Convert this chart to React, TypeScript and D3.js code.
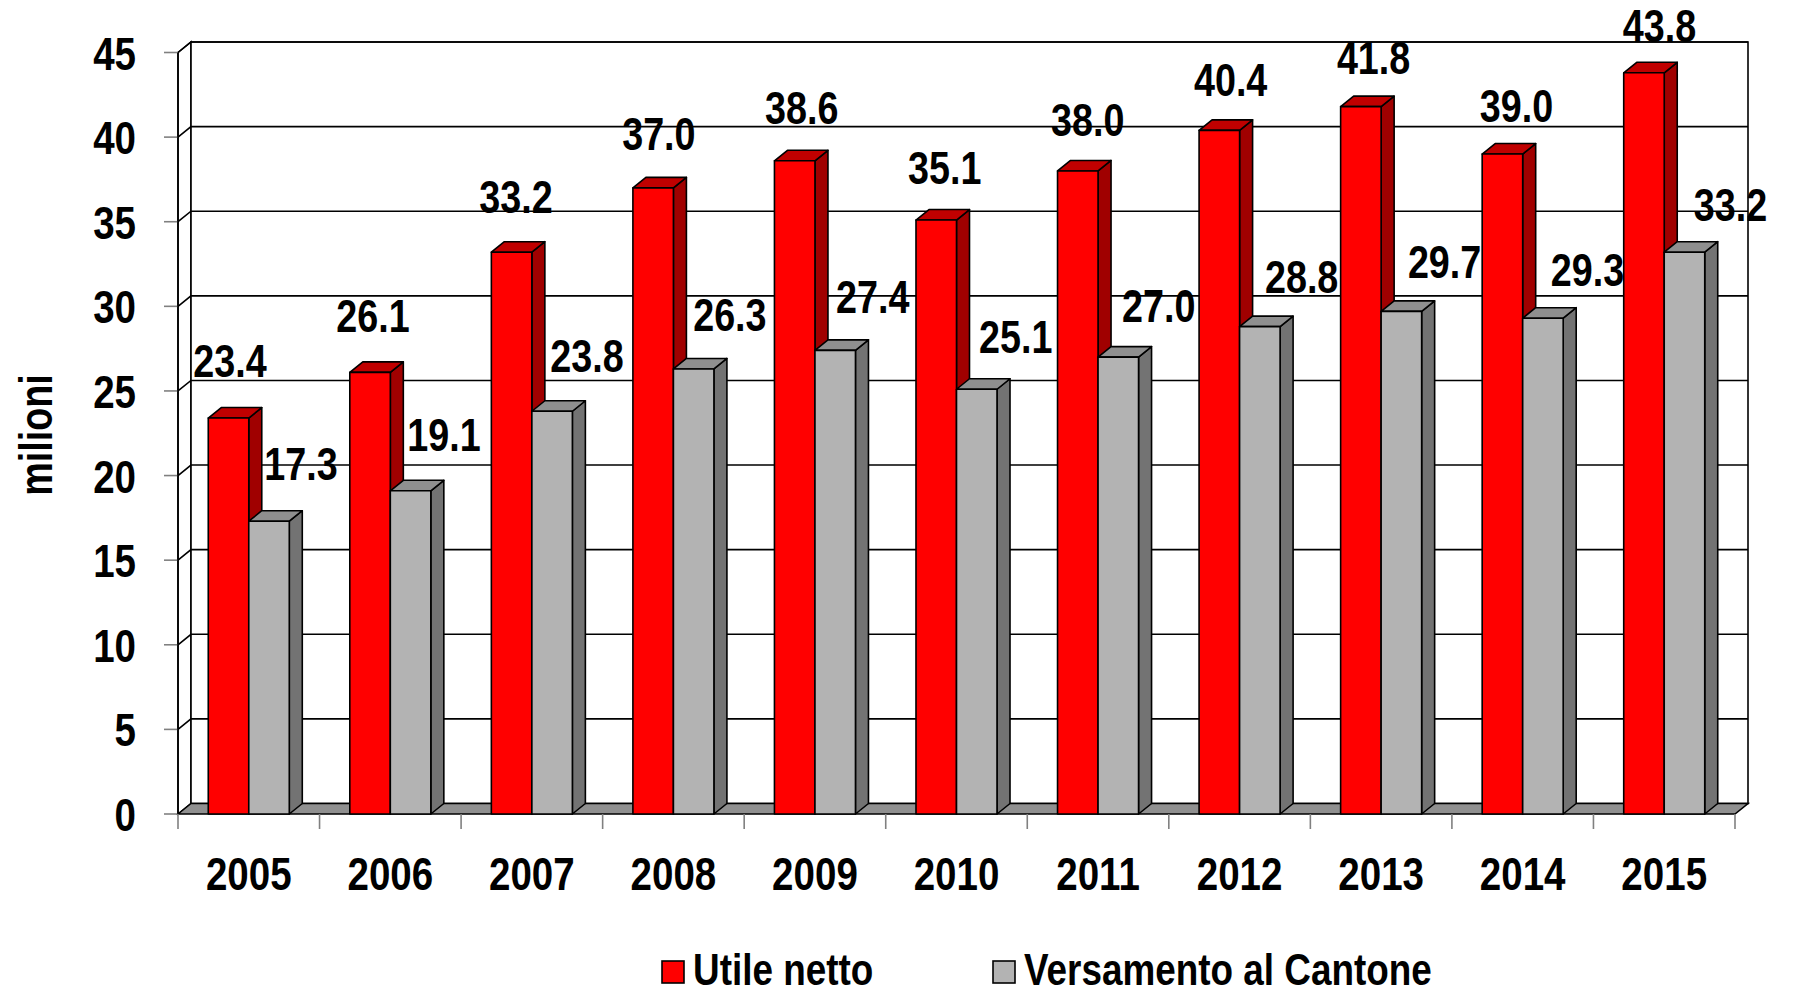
import React from 'react';
import * as d3 from 'd3';

const years = ['2005', '2006', '2007', '2008', '2009', '2010', '2011', '2012', '2013', '2014', '2015'];
const utileNetto = [23.4, 26.1, 33.2, 37.0, 38.6, 35.1, 38.0, 40.4, 41.8, 39.0, 43.8];
const versamento = [17.3, 19.1, 23.8, 26.3, 27.4, 25.1, 27.0, 28.8, 29.7, 29.3, 33.2];
const yTicks = [0, 5, 10, 15, 20, 25, 30, 35, 40, 45];
const seriesNames = ['Utile netto', 'Versamento al Cantone'];

const W = 1796;
const H = 992;
const FONT = "'Liberation Sans', Arial, sans-serif";

// depth of the 3d box
const DX = 13;
const DY = 10.5;

const colors = [
  { front: '#ff0000', top: '#c00000', side: '#a00000' },
  { front: '#b3b3b3', top: '#8f8f8f', side: '#737373' },
];

// arial narrow look: liberation sans squeezed horizontally
const NText: React.FC<{ x: number; y: number; size: number; anchor?: string; rotate?: number; children: React.ReactNode }> = ({
  x,
  y,
  size,
  anchor = 'start',
  rotate = 0,
  children,
}) => (
  <g transform={`translate(${x},${y}) rotate(${rotate}) scale(0.82,1)`}>
    <text textAnchor={anchor} fontSize={size} fontWeight="bold" fontFamily={FONT}>
      {children}
    </text>
  </g>
);

const App: React.FC = () => {
  const x0 = 178;
  const x1 = 1735;
  const x = d3.scaleBand<string>().domain(years).range([x0, x1]);
  const xs = d3.scaleBand<string>().domain(['0', '1']).range([0, x.bandwidth()]).paddingOuter(0.747);
  const y = d3.scaleLinear().domain([0, 45]).range([814, 52.5]);
  const fmt = d3.format('.1f');
  const y0 = y(0);
  const yTop = y(45);

  const pts = (p: [number, number][]) => p.map((d) => d.join(',')).join(' ');

  const bars: JSX.Element[] = [];
  const labels: JSX.Element[] = [];
  years.forEach((yr, i) => {
    [utileNetto, versamento].forEach((arr, s) => {
      const v = arr[i];
      const bx = (x(yr) as number) + (xs(String(s)) as number);
      const bw = xs.bandwidth();
      const ty = y(v);
      const c = colors[s];
      bars.push(
        <g key={`${yr}-${s}`} stroke="#000" strokeWidth={1.6} strokeLinejoin="round">
          <polygon points={pts([[bx + bw, ty], [bx + bw + DX, ty - DY], [bx + bw + DX, y0 - DY], [bx + bw, y0]])} fill={c.side} />
          <polygon points={pts([[bx, ty], [bx + DX, ty - DY], [bx + bw + DX, ty - DY], [bx + bw, ty]])} fill={c.top} />
          <rect x={bx} y={ty} width={bw} height={y0 - ty} fill={c.front} />
        </g>
      );
      const off = s === 0 ? 1.5 : 32;
      labels.push(
        <NText key={`l-${yr}-${s}`} x={bx + bw / 2 + off + 1.4 * i} y={ty - (41 - i)} size={46} anchor="middle">
          {fmt(v)}
        </NText>
      );
    });
  });

  return (
    <svg width={W} height={H} style={{ position: 'absolute', left: 0, top: 0, background: '#fff' }}>
      {/* side wall */}
      <polygon points={pts([[x0, yTop], [x0 + DX, yTop - DY], [x0 + DX, y0 - DY], [x0, y0]])} fill="#fff" stroke="#000" strokeWidth={1.6} />
      {/* back wall */}
      <rect x={x0 + DX} y={yTop - DY} width={x1 - x0} height={y0 - yTop} fill="#fff" stroke="#000" strokeWidth={1.6} />
      {/* gridlines */}
      {yTicks.slice(1).map((t) => (
        <polyline
          key={t}
          points={pts([[x0, y(t)], [x0 + DX, y(t) - DY], [x1 + DX, y(t) - DY]])}
          fill="none"
          stroke="#000"
          strokeWidth={1.6}
        />
      ))}
      {/* floor */}
      <polygon points={pts([[x0, y0], [x0 + DX, y0 - DY], [x1 + DX, y0 - DY], [x1, y0]])} fill="#909090" stroke="#000" strokeWidth={1.6} />
      {/* y ticks */}
      {yTicks.map((t) => (
        <g key={`yt-${t}`}>
          <line x1={x0 - 14} x2={x0} y1={y(t)} y2={y(t)} stroke="#808080" strokeWidth={1.6} />
          <NText x={136} y={y(t) + 17} size={47} anchor="end">
            {t}
          </NText>
        </g>
      ))}
      {/* x ticks */}
      {years.concat(['end']).map((yr, i) => {
        const xv = x0 + i * x.step();
        return <line key={`xt-${yr}`} x1={xv} x2={xv} y1={y0} y2={y0 + 15} stroke="#808080" strokeWidth={1.6} />;
      })}
      {years.map((yr) => (
        <NText key={`xl-${yr}`} x={(x(yr) as number) + x.bandwidth() / 2} y={890} size={47} anchor="middle">
          {yr}
        </NText>
      ))}
      {bars}
      {labels}
      <line x1={x0} x2={x0} y1={yTop} y2={y0} stroke="#000" strokeWidth={1.6} />
      {/* axis title */}
      <g transform="translate(52,435) rotate(-90) scale(0.82,1)">
        <text textAnchor="middle" fontSize={46} fontWeight="bold" fontFamily={FONT}>
          milioni
        </text>
      </g>
      {/* legend */}
      {seriesNames.map((n, s) => {
        const lx = s === 0 ? 662 : 993;
        return (
          <g key={n}>
            <rect x={lx} y={961} width={22} height={22} fill={colors[s].front} stroke="#000" strokeWidth={1.6} />
            <NText x={lx + 31} y={985} size={45}>
              {n}
            </NText>
          </g>
        );
      })}
    </svg>
  );
};

export default App;
